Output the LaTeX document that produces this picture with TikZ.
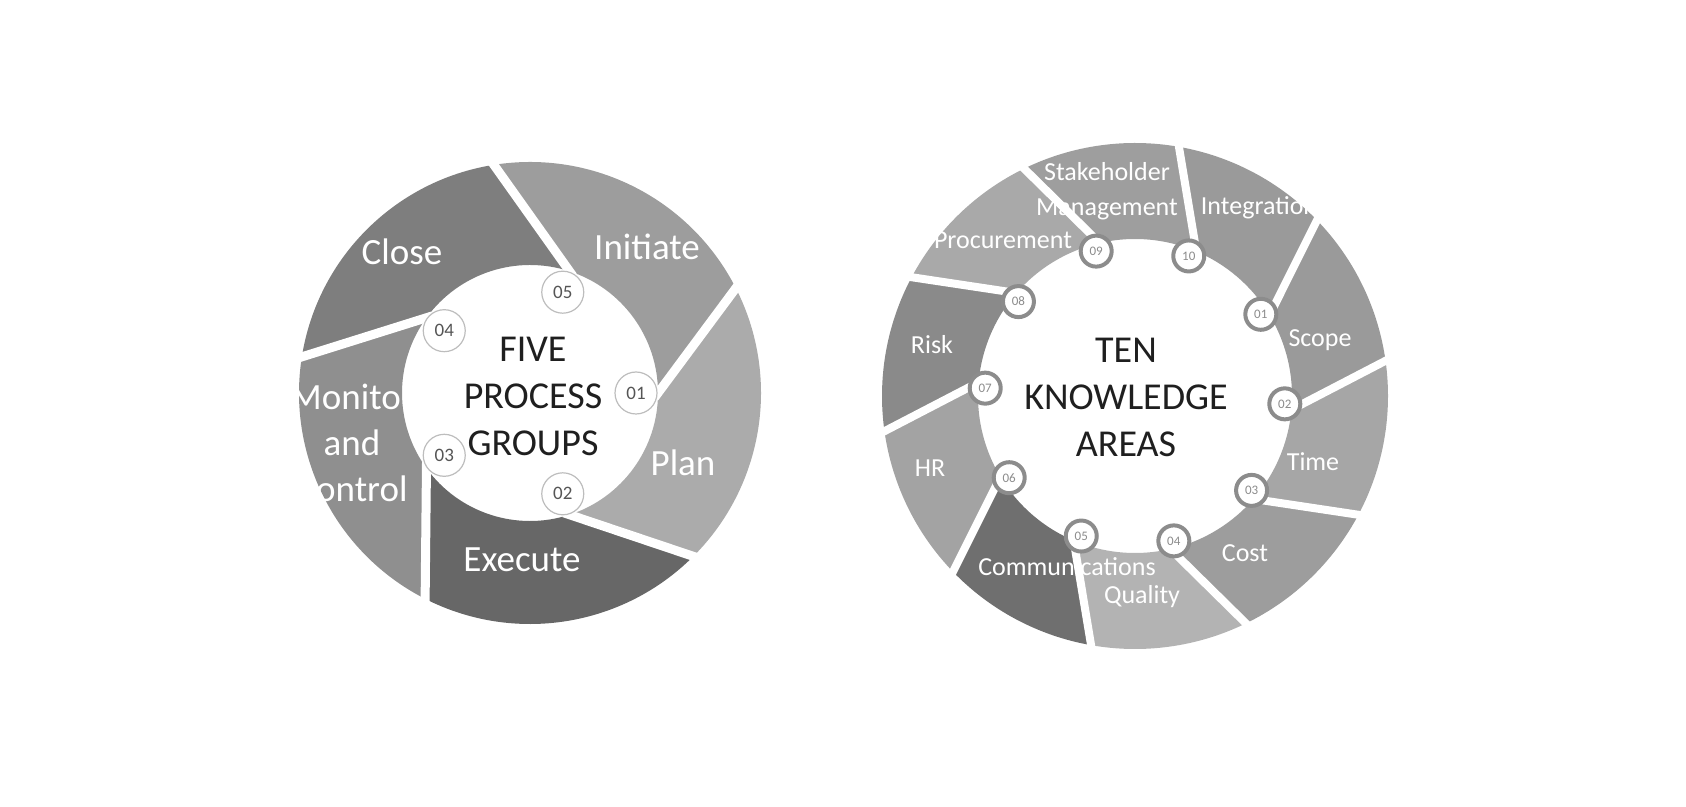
\documentclass[tikz,border=0pt]{standalone}
\usepackage{fontspec}
\setmainfont{Carlito}
\usepackage{tikz}
\usetikzlibrary{positioning}
\usepackage{xcolor}

\definecolor{closegray}{HTML}{7E7E7E}
\definecolor{initgray}{HTML}{9D9D9D}
\definecolor{plangray}{HTML}{ABABAB}
\definecolor{execgray}{HTML}{676767}
\definecolor{mongray}{HTML}{8F8F8F}
\definecolor{stakegray}{HTML}{9E9E9E}
\definecolor{integgray}{HTML}{9A9A9A}
\definecolor{scopegray}{HTML}{9A9A9A}
\definecolor{timegray}{HTML}{A6A6A6}
\definecolor{costgray}{HTML}{9D9D9D}
\definecolor{qualgray}{HTML}{B3B3B3}
\definecolor{commgray}{HTML}{6F6F6F}
\definecolor{hrgray}{HTML}{A3A3A3}
\definecolor{riskgray}{HTML}{8A8A8A}
\definecolor{procgray}{HTML}{A9A9A9}
\definecolor{ringlight}{HTML}{BDBDBD}
\definecolor{ringdark}{HTML}{8C8C8C}
\definecolor{numtext}{HTML}{555555}

\tikzset{
  gapline/.style={white, line width=9pt},
  bigblade/.style={text=white, font=\fontsize{37}{46}\selectfont, align=center, inner sep=0pt},
  smallblade/.style={text=white, font=\fontsize{26}{35}\selectfont, align=center, inner sep=0pt},
  hubtext/.style={text=black!88, font=\fontsize{38}{47}\selectfont, align=center, inner sep=0pt},
  numbig/.style={circle, draw=ringlight, line width=1.2pt, fill=white, minimum size=42pt,
    inner sep=0pt, text=numtext, font=\fontsize{19}{19}\selectfont},
  numsmall/.style={circle, draw=ringdark, line width=4pt, fill=white, minimum size=31pt,
    inner sep=0pt, text=ringdark, font=\fontsize{13}{13}\selectfont}
}

\begin{document}
\begin{tikzpicture}[x=1pt,y=1pt]
\useasboundingbox (0,0) rectangle (1686,806);

% process groups
\begin{scope}[shift={(530,413)}]
  \foreach \ang/\col in {0/initgray,-72/plangray,-144/execgray,-216/mongray,-288/closegray}
    \fill[\col] ({\ang+99}:231pt) arc[start angle=\ang+99, end angle=\ang+27, radius=231pt]
      -- ({\ang}:128pt) arc[start angle=\ang, end angle=\ang+72, radius=128pt] -- cycle;
  \foreach \ang in {0,-72,-144,-216,-288}
    \draw[gapline, shorten <=-6pt, shorten >=-20pt] ({\ang}:128pt) -- ({\ang+27}:231pt);
\end{scope}

\node[bigblade] (close) at (402,554) {Close};
\node[bigblade] (initiate) at (647,559) {Initiate};
\node[bigblade] (plan) at (683,343) {Plan};
\node[bigblade] (execute) at (522,246) {Execute};
\node[bigblade] (monitor) at (352,363) {Monitor\\and\\Control};
\node[hubtext] (five) at (533,410) {FIVE\\PROCESS\\GROUPS};

\begin{scope}[shift={(530,413)}]
  \foreach \ang/\num in {0/01,-72/02,-144/03,-216/04,-288/05}
    \node[numbig] (pg\num) at ({\ang}:106pt) {\num};
\end{scope}

% knowledge areas
\begin{scope}[shift={(1135,410)}]
  \foreach \ang/\col in {33/integgray,-3/scopegray,-39/timegray,-75/costgray,-111/qualgray,
      -147/commgray,-183/hrgray,-219/riskgray,-255/procgray,-291/stakegray}
    \fill[\col] ({\ang+47}:253pt) arc[start angle=\ang+47, end angle=\ang+11, radius=253pt]
      -- ({\ang-2}:157pt) arc[start angle=\ang-2, end angle=\ang+34, radius=157pt] -- cycle;
  \foreach \ang in {33,-3,-39,-75,-111,-147,-183,-219,-255,-291}
    \draw[gapline, line width=8pt, shorten <=-4pt, shorten >=-20pt] ({\ang-2}:157pt) -- ({\ang+11}:253pt);
\end{scope}

\node[smallblade] (stake) at (1107,615) {Stakeholder\\Management};
\node[smallblade] (integ) at (1259,598) {Integration};
\node[smallblade] (procure) at (1003,566) {Procurement};
\node[smallblade] (risk) at (932,461) {Risk};
\node[smallblade] (hr) at (930,338) {HR};
\node[smallblade] (comm) at (1067,239) {Communications};
\node[smallblade] (quality) at (1142,209) {Quality};
\node[smallblade] (cost) at (1245,253) {Cost};
\node[smallblade] (time) at (1313,344) {Time};
\node[smallblade] (scope) at (1320,466) {Scope};
\node[hubtext] (ten) at (1126,409) {TEN\\KNOWLEDGE\\AREAS};

\begin{scope}[shift={(1135,410)}]
  \foreach \ang/\num in {33/01,-3/02,-39/03,-75/04,-111/05,-147/06,-183/07,-219/08,-255/09,-291/10}
    \node[numsmall] (ka\num) at ({\ang}:150pt) {\num};
\end{scope}
\end{tikzpicture}
\end{document}
